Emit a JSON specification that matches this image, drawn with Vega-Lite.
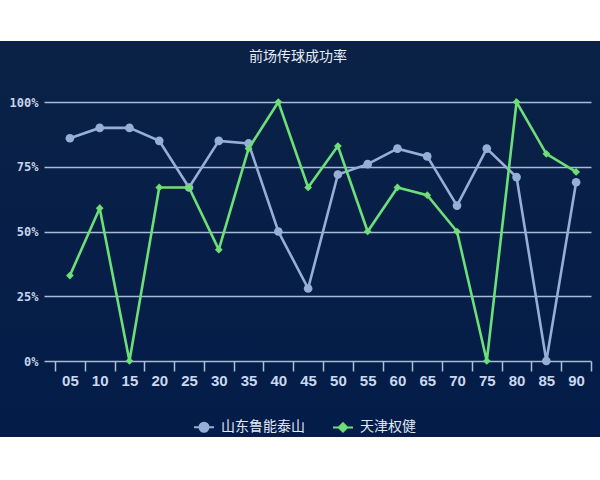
{
  "$schema": "https://vega.github.io/schema/vega-lite/v6.json",
  "width": 600,
  "height": 396,
  "autosize": {"type": "none"},
  "padding": {"top": 41, "bottom": 43, "left": 0, "right": 0},
  "background": "white",
  "config": {
    "view": {
      "stroke": null,
      "fill": {"gradient": "linear", "x1": 0, "y1": 0, "x2": 0, "y2": 1,
        "stops": [{"offset": 0, "color": "#0b2246"}, {"offset": 1, "color": "#031c49"}]}
    }
  },
  "title": {
    "text": "前场传球成功率",
    "orient": "top",
    "anchor": "middle",
    "frame": "group",
    "offset": -34,
    "baseline": "alphabetic",
    "font": "Noto Sans CJK SC",
    "fontSize": 14,
    "fontWeight": "normal",
    "color": "#e6edf7",
    "dx": -2
  },
  "data": {
    "values": [
      {"min": "05", "team": "山东鲁能泰山", "rate": 0.86},
      {"min": "10", "team": "山东鲁能泰山", "rate": 0.90},
      {"min": "15", "team": "山东鲁能泰山", "rate": 0.90},
      {"min": "20", "team": "山东鲁能泰山", "rate": 0.85},
      {"min": "25", "team": "山东鲁能泰山", "rate": 0.67},
      {"min": "30", "team": "山东鲁能泰山", "rate": 0.85},
      {"min": "35", "team": "山东鲁能泰山", "rate": 0.84},
      {"min": "40", "team": "山东鲁能泰山", "rate": 0.50},
      {"min": "45", "team": "山东鲁能泰山", "rate": 0.28},
      {"min": "50", "team": "山东鲁能泰山", "rate": 0.72},
      {"min": "55", "team": "山东鲁能泰山", "rate": 0.76},
      {"min": "60", "team": "山东鲁能泰山", "rate": 0.82},
      {"min": "65", "team": "山东鲁能泰山", "rate": 0.79},
      {"min": "70", "team": "山东鲁能泰山", "rate": 0.60},
      {"min": "75", "team": "山东鲁能泰山", "rate": 0.82},
      {"min": "80", "team": "山东鲁能泰山", "rate": 0.71},
      {"min": "85", "team": "山东鲁能泰山", "rate": 0.0},
      {"min": "90", "team": "山东鲁能泰山", "rate": 0.69},
      {"min": "05", "team": "天津权健", "rate": 0.33},
      {"min": "10", "team": "天津权健", "rate": 0.59},
      {"min": "15", "team": "天津权健", "rate": 0.0},
      {"min": "20", "team": "天津权健", "rate": 0.67},
      {"min": "25", "team": "天津权健", "rate": 0.67},
      {"min": "30", "team": "天津权健", "rate": 0.43},
      {"min": "35", "team": "天津权健", "rate": 0.82},
      {"min": "40", "team": "天津权健", "rate": 1.0},
      {"min": "45", "team": "天津权健", "rate": 0.67},
      {"min": "50", "team": "天津权健", "rate": 0.83},
      {"min": "55", "team": "天津权健", "rate": 0.50},
      {"min": "60", "team": "天津权健", "rate": 0.67},
      {"min": "65", "team": "天津权健", "rate": 0.64},
      {"min": "70", "team": "天津权健", "rate": 0.50},
      {"min": "75", "team": "天津权健", "rate": 0.0},
      {"min": "80", "team": "天津权健", "rate": 1.0},
      {"min": "85", "team": "天津权健", "rate": 0.80},
      {"min": "90", "team": "天津权健", "rate": 0.73}
    ]
  },
  "encoding": {
    "x": {
      "field": "min",
      "type": "ordinal",
      "scale": {"type": "band", "range": [44, 591], "paddingInner": 0, "paddingOuter": 0.185, "align": 1},
      "axis": {
        "orient": "bottom",
        "offset": -76,
        "title": null,
        "domain": false,
        "grid": false,
        "ticks": true,
        "tickBand": "extent",
        "tickSize": 10,
        "tickWidth": 1.5,
        "tickColor": "#aebfd6",
        "labelAngle": 0,
        "labelPadding": 2,
        "labelFont": "Liberation Sans",
        "labelFontSize": 15,
        "labelFontWeight": "bold",
        "labelColor": "#c9d8ef"
      }
    },
    "y": {
      "field": "rate",
      "type": "quantitative",
      "scale": {"domain": [0, 1], "range": [320, 61], "nice": false},
      "axis": {
        "orient": "left",
        "offset": -44,
        "title": null,
        "domain": false,
        "ticks": false,
        "grid": true,
        "gridColor": "#a9bbd6",
        "gridWidth": 1.3,
        "values": [0, 0.25, 0.5, 0.75, 1],
        "format": ".0%",
        "labelPadding": 6,
        "labelFont": "DejaVu Sans Mono",
        "labelFontSize": 12,
        "labelFontWeight": "bold",
        "labelColor": "#c6d4ea"
      }
    },
    "color": {
      "field": "team",
      "type": "nominal",
      "scale": {"domain": ["山东鲁能泰山", "天津权健"], "range": ["#96afd7", "#6ddf78"]},
      "legend": {
        "orient": "none",
        "legendX": 193,
        "legendY": 375,
        "direction": "horizontal",
        "title": null,
        "padding": 0,
        "symbolSize": 400,
        "symbolStrokeWidth": 2,
        "columnPadding": 24,
        "labelOffset": 6,
        "labelFont": "Noto Sans CJK SC",
        "labelFontSize": 14,
        "labelColor": "#e0e8f4",
        "encode": {
          "symbols": {
            "update": {
              "shape": [
                {"test": "datum.value === '山东鲁能泰山'", "value": "M-1,0L1,0M0.45,0A0.45,0.45,0,1,1,-0.45,0A0.45,0.45,0,1,1,0.45,0Z"},
                {"value": "M-1,0L1,0M0,-0.42L0.42,0L0,0.42L-0.42,0Z"}
              ],
              "stroke": {"scale": "color", "field": "value"},
              "strokeWidth": {"value": 2}
            }
          }
        }
      }
    }
  },
  "layer": [
    {
      "transform": [{"filter": "datum.team === '山东鲁能泰山'"}],
      "mark": {"type": "line", "strokeWidth": 2.6, "point": {"filled": true, "size": 75, "shape": "circle"}}
    },
    {
      "transform": [{"filter": "datum.team === '天津权健'"}],
      "mark": {"type": "line", "strokeWidth": 2.6, "point": {"filled": true, "size": 60, "shape": "diamond"}}
    }
  ]
}
